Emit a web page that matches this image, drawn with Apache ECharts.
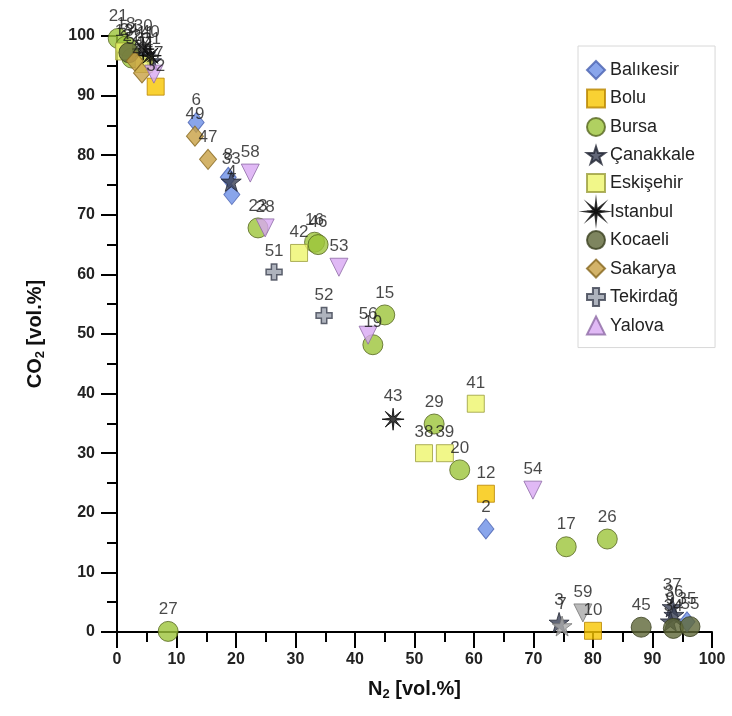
<!DOCTYPE html>
<html>
<head>
<meta charset="utf-8">
<script src="https://cdn.jsdelivr.net/npm/echarts@6/dist/echarts.min.js"></script>
<style>
  html, body { margin: 0; padding: 0; background: #fff; }
  #chart { width: 732px; height: 716px; }
</style>
</head>
<body>
<div id="chart"></div>
<script>
// [N2, CO2, sample no.]
var balikesir = [[13.3, 85.5, '6'], [18.7, 76.3, '8'], [19.3, 73.4, '4'], [62.0, 17.3, '2'], [95.8, 1.7, '35']]
var bolu = [[6.5, 91.5, '32'], [62.0, 23.2, '12'], [80.0, 0.2, '10']]
var bursa = [[0.2, 99.6, '21'], [1.5, 98.3, '18'], [2.5, 96.3, '22'], [23.7, 67.8, '23'], [33.2, 65.4, '16'],
  [33.8, 65.0, '46'], [45.0, 53.2, '15'], [43.0, 48.2, '19'], [53.3, 34.9, '29'], [57.6, 27.2, '20'],
  [75.5, 14.3, '17'], [82.4, 15.6, '26'], [8.6, 0.1, '27']]
var canakkale = [[4.8, 96.8, '11'], [5.8, 95.8, '31'], [19.2, 75.6, '33'], [74.3, 1.6, '3'], [74.8, 1.0, '7'],
  [93.3, 4.2, '37'], [93.6, 2.9, '36'], [93.0, 1.8, '9']]
var eskisehir = [[1.2, 97.4, '13'], [4.5, 95.3, '44'], [30.6, 63.6, '42'], [60.3, 38.3, '41'], [51.6, 30.0, '38'], [55.1, 30.0, '39']]
var istanbul = [[4.4, 97.8, '30'], [5.6, 96.7, '40'], [46.4, 35.7, '43']]
var kocaeli = [[2.0, 97.2, '24'], [88.1, 0.8, '45'], [93.5, 0.6, '34'], [96.3, 0.9, '55']]
var sakarya = [[3.0, 95.8, '50'], [4.2, 93.8, '48'], [13.1, 83.2, '49'], [15.3, 79.3, '47']]
var tekirdag = [[26.4, 60.4, '51'], [34.8, 53.1, '52']]
var yalova = [[6.2, 93.6, '57'], [22.4, 77.0, '58'], [24.9, 67.8, '28'], [37.3, 61.2, '53'], [42.2, 49.8, '56'],
  [69.9, 23.8, '54'], [78.3, 3.2, '59']]
var grayIds = ['59', '7'] // drawn grey in the original

var xTicks = [0, 10, 20, 30, 40, 50, 60, 70, 80, 90, 100]

var starPath = 'path://M50,0 L61,35 L98,35 L68,57 L79,91 L50,70 L21,91 L32,57 L2,35 L39,35 Z'
var burstPath = 'path://M100,50 L61.09,54.59 L85.36,85.36 L54.59,61.09 L50,100 L45.41,61.09 L14.64,85.36 L38.91,54.59 L0,50 L38.91,45.41 L14.64,14.64 L45.41,38.91 L50,0 L54.59,38.91 L85.36,14.64 L61.09,45.41 Z'
var plusPath = 'path://M33,0 L67,0 L67,33 L100,33 L100,67 L67,67 L67,100 L33,100 L33,67 L0,67 L0,33 L33,33 Z'

var groups = [
  { name: 'Balıkesir', data: balikesir, symbol: 'diamond', size: [16, 20], color: '#6b8fe6', border: '#4a62b0' },
  { name: 'Bolu', data: bolu, symbol: 'rect', size: 17, color: '#f7c500', border: '#b88400' },
  { name: 'Bursa', data: bursa, symbol: 'circle', size: 20, color: '#9cc43a', border: '#55651e' },
  { name: 'Çanakkale', data: canakkale, symbol: starPath, size: 20, color: '#3a4055', border: '#222633' },
  { name: 'Eskişehir', data: eskisehir, symbol: 'rect', size: 17, color: '#eef56c', border: '#9a9c3c' },
  { name: 'Istanbul', data: istanbul, symbol: burstPath, size: 22, color: '#111111', border: '#000000' },
  { name: 'Kocaeli', data: kocaeli, symbol: 'circle', size: 20, color: '#5e6737', border: '#3a401f' },
  { name: 'Sakarya', data: sakarya, symbol: 'diamond', size: [17, 20], color: '#c8a043', border: '#86661e' },
  { name: 'Tekirdağ', data: tekirdag, symbol: plusPath, size: 16, color: '#9aa0ad', border: '#3c4150', bw: 1.5 },
  { name: 'Yalova', data: yalova, symbol: 'triangle', size: 18, rotate: 180, color: '#d8a8f2', border: '#8d6aa5' }
]

var series = groups.map(function(g) {
  return {
    name: g.name,
    type: 'scatter',
    symbol: g.symbol,
    symbolSize: g.size,
    symbolRotate: g.rotate || 0,
    itemStyle: { color: g.color, borderColor: g.border, borderWidth: g.bw || 1 },
    label: {
      show: true,
      position: 'top',
      distance: 3,
      color: '#1a1a1a',
      fontSize: 17,
      fontFamily: 'Liberation Sans',
      formatter: function(p) { return p.value[2] }
    },
    data: g.data.map(function(d) {
      var item = { value: d }
      if (grayIds.indexOf(d[2]) >= 0) {
        item.itemStyle = { color: '#a9a9a9', borderColor: '#777' }
      }
      return item
    })
  }
})

var nameRich = {
  b: { fontSize: 20, fontWeight: 'bold', color: '#111', fontFamily: 'Liberation Sans' },
  s: { fontSize: 13, fontWeight: 'bold', color: '#111', fontFamily: 'Liberation Sans', verticalAlign: 'bottom', padding: [10, 0, 0, 0] }
}

var axisCommon = {
  type: 'value',
  min: 0,
  max: 100,
  interval: 10,
  splitLine: { show: false },
  axisLine: { lineStyle: { color: '#000', width: 2 } },
  axisTick: { length: 16, lineStyle: { color: '#000', width: 2 } },
  minorTick: { show: true, splitNumber: 2, length: 10, lineStyle: { color: '#000', width: 2 } },
  minorSplitLine: { show: false },
  nameLocation: 'middle'
}

var chart = echarts.init(document.getElementById('chart'))
chart.setOption({
  backgroundColor: '#fff',
  animation: false,
  grid: { left: 117, right: 20, top: 36, bottom: 84 },
  legend: {
    orient: 'vertical',
    left: 578,
    top: 46,
    padding: [14, 20, 12, 8],
    itemWidth: 18,
    itemHeight: 18,
    itemGap: 8.5,
    borderColor: '#d8d8d8',
    borderWidth: 1,
    textStyle: { fontSize: 18, lineHeight: 18, color: '#222', fontFamily: 'Liberation Sans' },
    data: groups.map(function(g) { return g.name })
  },
  xAxis: Object.assign({}, axisCommon, {
    name: '{b|N}{s|2}{b| [vol.%]}',
    nameGap: 46,
    nameTextStyle: { rich: nameRich },
    axisLabel: {
      margin: 20, fontSize: 16, fontWeight: 'bold', color: '#222', fontFamily: 'Liberation Sans',
      formatter: function(v) { return xTicks.indexOf(v) >= 0 ? String(v) : '' }
    }
  }),
  yAxis: Object.assign({}, axisCommon, {
    name: '{b|CO}{s|2}{b| [vol.%]}',
    nameGap: 70,
    nameTextStyle: { rich: nameRich },
    axisLabel: { margin: 22, fontSize: 16, fontWeight: 'bold', color: '#222', fontFamily: 'Liberation Sans' }
  }),
  series: series
})
</script>
</body>
</html>
